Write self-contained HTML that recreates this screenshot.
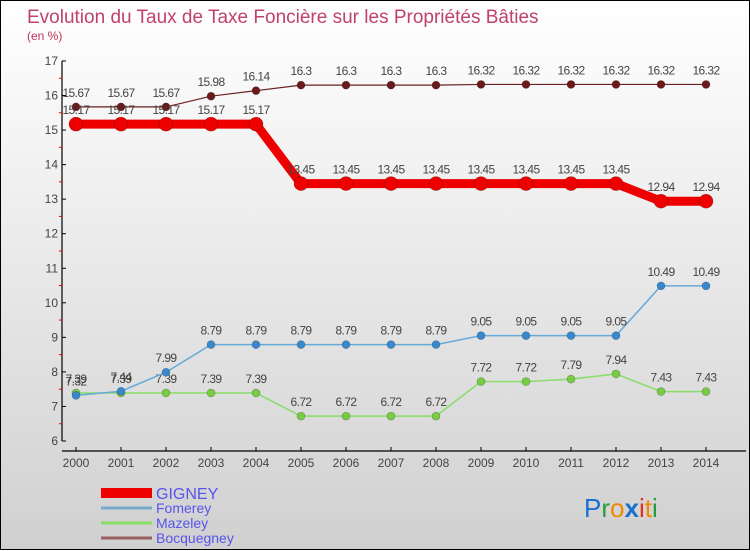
<!DOCTYPE html>
<html><head><meta charset="utf-8"><style>
html,body{margin:0;padding:0}
body{width:750px;height:550px;overflow:hidden;font-family:"Liberation Sans",sans-serif}
#wrap{position:relative;width:748px;height:548px;border:1px solid #000;background:linear-gradient(#ffffff,#f4f4f4 25%,#d0d0d0)}
svg{position:absolute;left:0;top:0}
</style></head><body>
<div id="wrap">
<svg id="c" width="750" height="550">
<text x="26" y="22" font-size="19" fill="#c04070">Evolution du Taux de Taxe Foncière sur les Propriétés Bâties</text>
<text x="26" y="39" font-size="12" fill="#c0305a">(en %)</text>
<g>
<text x="583" y="516" font-size="26"><tspan fill="#1a6fd0">P</tspan><tspan fill="#2a9a3a">r</tspan><tspan fill="#f08a00">o</tspan><tspan fill="#1a6fd0" font-weight="bold">x</tspan><tspan fill="#e03020">i</tspan><tspan fill="#f08a00">t</tspan><tspan fill="#2a9a3a">i</tspan></text>
</g>
</svg>
</div>
<script>
const years=[2000,2001,2002,2003,2004,2005,2006,2007,2008,2009,2010,2011,2012,2013,2014];
const gigney=[15.17,15.17,15.17,15.17,15.17,13.45,13.45,13.45,13.45,13.45,13.45,13.45,13.45,12.94,12.94];
const fomerey=[7.32,7.44,7.99,8.79,8.79,8.79,8.79,8.79,8.79,9.05,9.05,9.05,9.05,10.49,10.49];
const mazeley=[7.39,7.39,7.39,7.39,7.39,6.72,6.72,6.72,6.72,7.72,7.72,7.79,7.94,7.43,7.43];
const bocquegney=[15.67,15.67,15.67,15.98,16.14,16.3,16.3,16.3,16.3,16.32,16.32,16.32,16.32,16.32,16.32];
const yTicks=[6,7,8,9,10,11,12,13,14,15,16,17];
const legendNames=["GIGNEY","Fomerey","Mazeley","Bocquegney"];

const NS="http://www.w3.org/2000/svg";
const svg=document.getElementById('c');
const x=i=>75+i*45;
const y=v=>440-(v-6)*34.55;
function mk(tag,attrs,parent){const e=document.createElementNS(NS,tag);for(const k in attrs)e.setAttribute(k,attrs[k]);(parent||svg).appendChild(e);return e;}

const ax=mk('g',{});


const yl=mk('line',{x1:61,y1:y(17),x2:61,y2:y(6),stroke:'#000','stroke-width':1.2},ax);


const xl=mk('line',{x1:61,y1:450,x2:745,y2:450,stroke:'#000','stroke-width':1.2},ax);


yTicks.forEach(t=>{
  mk('line',{x1:61,y1:y(t),x2:65,y2:y(t),stroke:'#000'},ax);
  if(t<17)mk('line',{x1:58,y1:y(t+0.5),x2:61,y2:y(t+0.5),stroke:'#e00'},ax);
  const tx=mk('text',{x:57,y:y(t)+4,'font-size':12,fill:'#444','text-anchor':'end'},ax);
  tx.textContent=t;
  
  
});
years.forEach((yr,i)=>{
  mk('line',{x1:x(i),y1:446,x2:x(i),y2:450,stroke:'#000'},ax);
  const tx=mk('text',{x:x(i),y:466,'font-size':12,fill:'#444','text-anchor':'middle'},ax);
  tx.textContent=yr;
  
  
});

function series(data,color,width,r,name,dotFill){
  const g=mk('g',{});
  
  
  const ln=mk('polyline',{points:data.map((v,i)=>x(i)+','+y(v)).join(' '),fill:'none',stroke:color,'stroke-width':width,'stroke-linejoin':'round'},g);
  
  
  data.forEach((v,i)=>{
    const c=mk('circle',{cx:x(i),cy:y(v),r:r,fill:dotFill,stroke:'rgba(0,0,0,0.3)','stroke-width':0.6},g);
    
    
    const t=mk('text',{x:x(i),y:y(v)-10,'font-size':12,fill:'#444','text-anchor':'middle','letter-spacing':'-0.6'},g);
    t.textContent=v;
    
    
  });
}
series(mazeley,'#88dd66',1.5,4,'mazeley','#77cc44');
series(fomerey,'#66a8d8',1.5,4,'fomerey','#3a88cc');
series(bocquegney,'#6a2020',1.2,4,'bocquegney','#6a1a1a');
series(gigney,'#ee0000',9,7,'gigney','#ee0000');

const cols=['#ee0000','#78aacc','#88dd66','#9a6060'];
const ws=[10,3,3,3];
legendNames.forEach((n,i)=>{
  const g=mk('g',{});
  
  
  const ly=492+i*15;
  mk('line',{x1:100,y1:ly,x2:151,y2:ly,stroke:cols[i],'stroke-width':ws[i]},g);
  const t=mk('text',{x:155,y:ly+(i==0?6:5),'font-size':i==0?16:14,fill:'#5555ee'},g);
  t.textContent=n;
});
</script>
</body></html>
